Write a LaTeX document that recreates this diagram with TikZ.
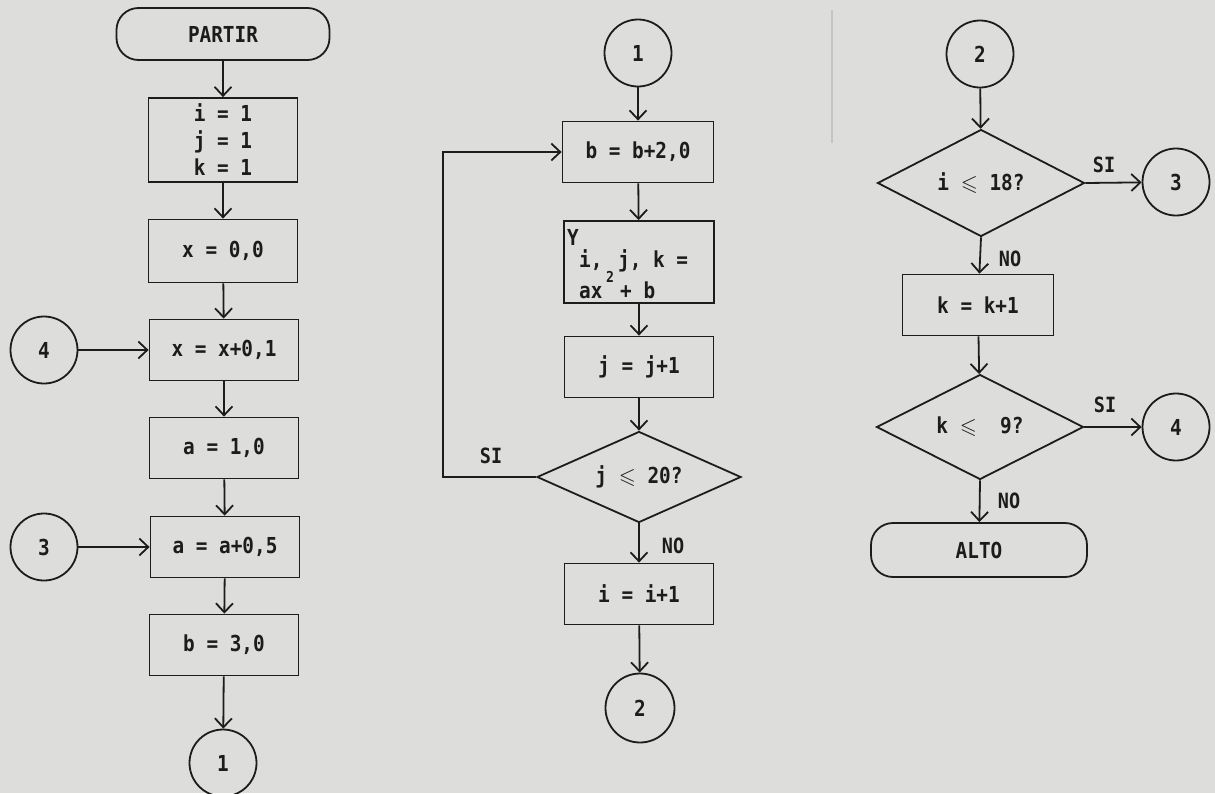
\documentclass[tikz,border=0pt]{standalone}
\usepackage{amssymb}
\usepackage{fontspec}
\setmainfont{DejaVu Sans Mono}[FakeStretch=0.88]
\usetikzlibrary{arrows.meta,shapes.geometric}
\definecolor{paper}{RGB}{221,221,219}
\definecolor{ink}{RGB}{28,28,28}
\definecolor{faint}{RGB}{196,196,194}
\begin{document}
\begin{tikzpicture}[x=1pt,y=-1pt,
  every node/.style={font=\fontsize{22}{27}\selectfont\bfseries, text=ink},
  line/.style={draw=ink, line width=1.8pt},
  box/.style={line, rectangle, inner sep=0pt, minimum width=149pt, minimum height=61pt, align=center},
  term/.style={line, rectangle, rounded corners=22pt, inner sep=0pt, minimum height=52pt},
  conn/.style={line, circle, inner sep=0pt, minimum size=67pt},
  dec/.style={line, diamond, aspect=2, inner sep=0pt, minimum width=206pt, minimum height=106pt},
  arr/.style={line, -{Straight Barb[length=9pt,width=17pt,line width=1.8pt]}},
  lab/.style={font=\fontsize{21}{25}\selectfont\bfseries, inner sep=0pt},
  piece/.style={inner sep=0pt, anchor=base west}
]
\fill[paper] (0,0) rectangle (1215,793);
\useasboundingbox (0,0) rectangle (1215,793);
\draw[faint, line width=1.4pt] (832,10) -- (832,143);

% ---------- left column ----------
\node[term, minimum width=213pt] (partir) at (223,34) {PARTIR};
\node[box, minimum height=84pt] (init) at (223,140) {i = 1\\j = 1\\k = 1};
\node[box, minimum height=63pt] (x0) at (223,251) {x = 0,0};
\node[box] (xinc) at (224,350) {x = x+0,1};
\node[conn] (c4l) at (44,350) {4};
\node[box] (a0) at (224,448) {a = 1,0};
\node[box] (ainc) at (225,547) {a = a+0,5};
\node[conn] (c3l) at (44,547) {3};
\node[box] (b0) at (224,645) {b = 3,0};
\node[conn] (c1b) at (223,763) {1};

\draw[arr] (partir) -- (init);
\draw[arr] (init) -- (x0);
\draw[arr] (x0) -- (xinc);
\draw[arr] (c4l) -- (xinc);
\draw[arr] (xinc) -- (a0);
\draw[arr] (a0) -- (ainc);
\draw[arr] (c3l) -- (ainc);
\draw[arr] (ainc) -- (b0);
\draw[arr] (b0) -- (c1b);

% ---------- middle column ----------
\node[conn] (c1t) at (638,53) {1};
\node[box, minimum width=151pt] (binc) at (638,152) {b = b+2,0};
\node[box, minimum width=150pt, minimum height=82pt] (ybox) at (639,262) {};
\node[piece] (yY) at (567,245) {Y};
\node[piece] (yi) at (579,267) {i,};
\node[piece] (yjk) at (618,267) {j, k =};
\node[piece] (yax) at (579,298) {ax};
\node[piece, font=\fontsize{15}{18}\selectfont\bfseries] (y2) at (606,282) {2};
\node[piece] (yb) at (620,298) {+ b};
\node[box] (jinc) at (639,367) {j = j+1};
\node[dec, minimum width=204pt, minimum height=91pt] (dj) at (639,477) {j $\leqslant$ 20?};
\node[box] (iinc) at (639,594) {i = i+1};
\node[conn, minimum size=69pt] (c2b) at (640,708) {2};
\coordinate (loop) at (443,477);
\node[lab] (sij) at (491,456) {SI};
\node[lab] (noj) at (673,546) {NO};

\draw[arr] (c1t) -- (binc);
\draw[arr] (binc) -- (ybox);
\draw[arr] (ybox) -- (jinc);
\draw[arr] (jinc) -- (dj);
\draw[arr] (dj.west) -- (loop) |- (binc.west);
\draw[arr] (dj.south) -- (iinc);
\draw[arr] (iinc) -- (c2b);

% ---------- right column ----------
\node[conn] (c2t) at (980,54) {2};
\node[dec, minimum width=207pt, minimum height=107pt] (di) at (981,183) {i $\leqslant$ 18?};
\node[conn] (c3r) at (1176,182) {3};
\node[lab] (sii) at (1104,165) {SI};
\node[lab] (noi) at (1010,259) {NO};
\node[box, minimum width=151pt] (kinc) at (978,305) {k = k+1};
\node[dec, minimum width=207pt, minimum height=105pt] (dk) at (980,427) {k $\leqslant$ \ 9?};
\node[conn] (c4r) at (1176,427) {4};
\node[lab] (sik) at (1105,405) {SI};
\node[lab] (nok) at (1009,501) {NO};
\node[term, minimum width=216pt, minimum height=54pt] (alto) at (979,550) {ALTO};

\draw[arr] (c2t) -- (di);
\draw[arr] (di.east) -- (c3r);
\draw[arr] (di.south) -- (kinc);
\draw[arr] (kinc) -- (dk);
\draw[arr] (dk.east) -- (c4r);
\draw[arr] (dk.south) -- (alto);
\end{tikzpicture}
\end{document}
